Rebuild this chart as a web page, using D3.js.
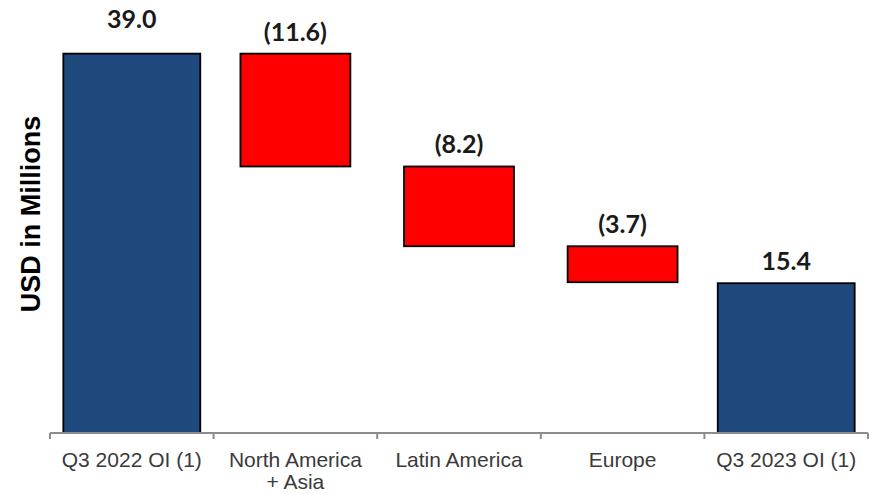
<!DOCTYPE html>
<html>
<head>
<meta charset="utf-8">
<script src="https://cdn.jsdelivr.net/npm/d3@7"></script>
<style>
  body { margin: 0; background: #fff; }
  svg { display: block; }
</style>
</head>
<body>
<svg id="chart" width="877" height="494"></svg>
<script>
// 数据
const categories = ["Q3 2022 OI (1)", "North America + Asia", "Latin America", "Europe", "Q3 2023 OI (1)"];
const tickLabels = [["Q3 2022 OI (1)"], ["North America", "+ Asia"], ["Latin America"], ["Europe"], ["Q3 2023 OI (1)"]];
const values = [39.0, -11.6, -8.2, -3.7, 15.4];
const kinds = ["total", "delta", "delta", "delta", "total"];

// 计算瀑布起止
let running = 0;
const bars = categories.map((c, i) => {
  let y0, y1;
  if (kinds[i] === "total") { y0 = 0; y1 = values[i]; running = values[i]; }
  else { y0 = running; y1 = running + values[i]; running = y1; }
  return { cat: c, v: values[i], kind: kinds[i], lo: Math.min(y0, y1), hi: Math.max(y0, y1) };
});

const svg = d3.select("#chart");
const axisY = 433;

const x = d3.scaleBand().domain(categories).range([50, 868]).padding(0);
const y = d3.scaleLinear().domain([0, 44]).range([axisY, 5]);

const fmt = v => v < 0 ? "(" + d3.format(".1f")(-v) + ")" : d3.format(".1f")(v);
const barW = d => x.bandwidth() * (d.kind === "total" ? 0.837 : 0.672);

// 柱子
svg.append("g").selectAll("rect")
  .data(bars)
  .join("rect")
  .attr("x", d => x(d.cat) + (x.bandwidth() - barW(d)) / 2)
  .attr("width", barW)
  .attr("y", d => y(d.hi))
  .attr("height", d => y(d.lo) - y(d.hi))
  .attr("fill", d => d.kind === "total" ? "#1F497D" : "#FF0000")
  .attr("stroke", "#000")
  .attr("stroke-width", 1.8);

// X 轴
const gx = svg.append("g");
gx.append("line")
  .attr("x1", x.range()[0]).attr("x2", x.range()[1])
  .attr("y1", axisY).attr("y2", axisY)
  .attr("stroke", "#8c8c8c").attr("stroke-width", 2);
const bounds = categories.map(c => x(c)).concat([x.range()[1]]);
gx.selectAll("line.tick")
  .data(bounds)
  .join("line")
  .attr("class", "tick")
  .attr("x1", d => d).attr("x2", d => d)
  .attr("y1", axisY).attr("y2", axisY + 6)
  .attr("stroke", "#8c8c8c").attr("stroke-width", 2);

const tl = gx.selectAll("text.tl")
  .data(categories)
  .join("text")
  .attr("class", "tl")
  .attr("x", d => x(d) + x.bandwidth() / 2)
  .attr("y", 467)
  .attr("text-anchor", "middle")
  .attr("font-family", "'Liberation Sans', Arial, sans-serif")
  .attr("font-size", 21)
  .attr("fill", "#3a3a3a");
tl.each(function(d, i) {
  d3.select(this).selectAll("tspan")
    .data(tickLabels[i])
    .join("tspan")
    .attr("x", x(d) + x.bandwidth() / 2)
    .attr("dy", (t, j) => j === 0 ? 0 : 22)
    .text(t => t);
});

// 数值标签
svg.append("g").selectAll("text")
  .data(bars)
  .join("text")
  .attr("x", d => x(d.cat) + x.bandwidth() / 2)
  .attr("y", (d, i) => y(d.hi) - (i === 0 ? 26 : 13))
  .attr("text-anchor", "middle")
  .attr("font-family", "Lato, 'Open Sans', sans-serif")
  .attr("font-weight", 700)
  .attr("font-size", 25)
  .attr("fill", "#1a1a1a")
  .text(d => fmt(d.v));

// Y 轴标题
svg.append("text")
  .attr("transform", "translate(40,214) rotate(-90)")
  .attr("text-anchor", "middle")
  .attr("font-family", "'Liberation Sans', Arial, sans-serif")
  .attr("font-weight", 700)
  .attr("font-size", 27)
  .attr("fill", "#000")
  .text("USD in Millions");
</script>
</body>
</html>
